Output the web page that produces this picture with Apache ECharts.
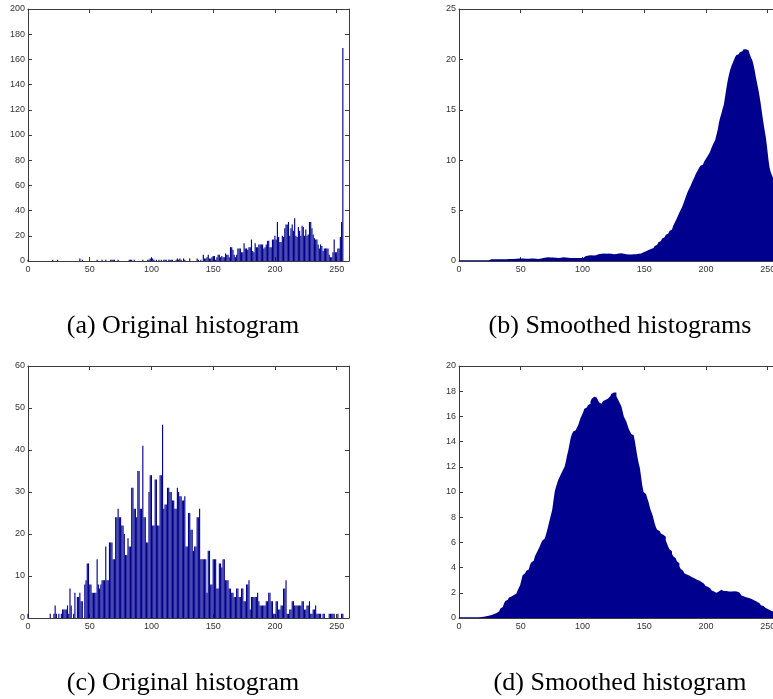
<!DOCTYPE html>
<html>
<head>
<meta charset="utf-8">
<script src="https://cdn.jsdelivr.net/npm/echarts@6/dist/echarts.min.js"></script>
<style>
  html, body { margin: 0; padding: 0; background: #ffffff; }
  #chart { width: 773px; height: 699px; }
</style>
</head>
<body>
<div id="chart"></div>
<script>
// Grey levels 0..255 (histogram bins)
const bins = [];
for (let i = 0; i < 256; i++) bins.push(i);

// (a) original histogram counts
const histA = [
  1,0,0,0,0,0,0,0,0,0,
  0,0,0,0,0,0,0,0,0,0,
  1,0,0,0,1,0,0,0,0,0,
  0,0,0,0,0,0,0,0,0,0,
  0,0,2,0,1,0,0,0,0,0,
  0,0,0,0,0,0,1,0,0,0,
  1,0,0,1,0,0,0,1,1,1,
  1,0,0,1,0,0,0,0,0,0,
  0,0,1,1,1,0,1,0,0,0,
  0,0,0,1,0,0,0,1,1,2,
  2,2,1,0,1,0,1,0,1,0,
  1,1,1,0,1,1,1,1,0,0,
  1,2,1,2,1,0,2,1,0,0,
  0,2,0,0,0,0,0,2,1,0,
  1,0,5,2,2,3,5,2,2,3,
  4,4,1,3,5,5,3,4,3,3,
  6,5,5,3,11,11,9,5,3,5,
  10,10,10,7,7,14,10,10,9,11,
  11,17,8,7,14,11,11,13,13,13,
  13,10,11,13,16,16,11,11,17,17,
  20,17,31,19,15,15,20,19,26,29,
  29,31,20,26,29,24,34,20,19,27,
  24,20,28,27,20,25,20,21,31,31,
  26,21,18,17,17,13,10,13,12,8,
  10,10,10,10,5,3,3,7,17,7,
  7,10,10,19,31,169
];

// (b) smoothed histogram
const smoothB = [
  0.08,0.08,0.08,0.08,0.08,0.08,0.08,0.08,0.08,0.08,
  0.08,0.08,0.08,0.08,0.08,0.08,0.08,0.08,0.08,0.08,
  0.08,0.08,0.08,0.08,0.08,0.08,0.17,0.18,0.18,0.18,
  0.18,0.18,0.18,0.18,0.18,0.18,0.18,0.18,0.18,0.19,
  0.19,0.19,0.19,0.2,0.2,0.2,0.22,0.24,0.25,0.25,
  0.25,0.25,0.24,0.24,0.23,0.23,0.23,0.24,0.26,0.27,
  0.26,0.24,0.22,0.21,0.21,0.22,0.24,0.27,0.3,0.33,
  0.35,0.36,0.36,0.35,0.35,0.35,0.35,0.34,0.32,0.3,
  0.3,0.31,0.33,0.35,0.36,0.35,0.35,0.34,0.32,0.3,
  0.3,0.3,0.3,0.29,0.3,0.3,0.3,0.3,0.3,0.3,
  0.3,0.32,0.38,0.46,0.52,0.55,0.56,0.56,0.55,0.55,
  0.56,0.58,0.62,0.66,0.7,0.72,0.74,0.75,0.74,0.72,
  0.72,0.74,0.75,0.72,0.7,0.68,0.68,0.7,0.72,0.74,
  0.76,0.76,0.75,0.72,0.7,0.68,0.66,0.65,0.65,0.65,
  0.66,0.66,0.65,0.66,0.68,0.71,0.72,0.75,0.8,0.86,
  0.92,0.97,1.0,1.04,1.08,1.13,1.2,1.28,1.38,1.48,
  1.6,1.72,1.85,1.98,2.1,2.22,2.35,2.45,2.6,2.72,
  2.85,2.98,3.12,3.3,3.5,3.75,4.0,4.25,4.55,4.8,
  5.05,5.3,5.6,5.95,6.3,6.65,6.95,7.2,7.45,7.75,
  8.0,8.25,8.55,8.8,9.0,9.25,9.45,9.55,9.65,9.85,
  10.05,10.25,10.45,10.65,10.9,11.2,11.5,11.75,12.0,12.5,
  13.0,13.7,14.2,14.6,15.1,15.5,16.3,17.1,17.8,18.4,
  18.9,19.3,19.6,19.9,20.2,20.4,20.5,20.6,20.7,20.8,
  20.9,21.0,21.05,21.0,20.9,20.75,20.5,20.2,19.95,19.5,
  18.9,18.2,17.6,17.0,16.3,15.5,14.6,13.8,13.0,12.3,
  11.3,10.2,9.3,8.8,8.5,8.2
];

// (c) original histogram counts
const histC = [
  1,0,0,0,0,0,0,0,0,0,
  0,0,0,0,0,0,0,0,1,0,
  0,1,3,1,0,1,0,1,2,2,
  2,2,3,1,7,3,0,1,6,0,
  5,5,6,4,4,0,8,9,13,13,
  8,8,6,6,6,6,14,8,7,8,
  9,9,9,17,9,9,18,18,18,14,
  14,24,24,26,24,24,22,22,20,15,
  15,19,17,17,31,31,26,26,24,35,
  35,26,26,41,24,24,18,18,30,34,
  34,22,22,33,33,22,22,34,34,46,
  26,27,27,31,31,30,30,28,28,26,
  26,31,30,29,29,28,28,29,17,17,
  25,25,21,21,16,17,17,24,24,26,
  14,14,14,14,14,6,16,16,8,8,
  14,14,14,7,7,13,13,12,14,14,
  9,9,9,7,7,6,6,5,5,7,
  7,5,5,7,7,4,4,8,8,9,
  2,5,5,5,5,5,6,4,3,3,
  3,3,3,4,4,6,6,4,4,1,
  1,4,4,2,2,3,3,7,7,9,
  1,1,2,2,4,4,3,3,3,3,
  3,3,4,4,2,2,3,3,4,1,
  1,2,2,3,1,1,1,1,0,1,
  1,0,0,0,1,1,1,1,1,0,
  0,1,0,0,1,1
];

// (d) smoothed histogram
const smoothD = [
  0.05,0.05,0.05,0.05,0.05,0.05,0.05,0.05,0.05,0.05,
  0.05,0.05,0.05,0.05,0.05,0.05,0.05,0.06,0.08,0.1,
  0.1,0.12,0.14,0.16,0.18,0.2,0.24,0.28,0.32,0.36,
  0.4,0.46,0.54,0.64,0.76,0.88,1.02,1.18,1.34,1.45,
  1.55,1.62,1.7,1.76,1.82,1.88,1.95,2.05,2.2,2.4,
  2.6,3.0,3.4,3.55,3.65,3.75,3.85,4.0,4.2,4.4,
  4.55,4.7,4.9,5.1,5.3,5.5,5.7,5.95,6.15,6.3,
  6.45,6.65,7.0,7.4,7.8,8.2,8.6,9.3,10.0,10.4,
  10.7,11.0,11.2,11.4,11.6,11.8,12.0,12.4,12.9,13.3,
  13.8,14.3,14.6,14.8,14.9,15.0,15.1,15.3,15.6,15.9,
  16.1,16.3,16.6,16.7,16.8,16.9,17.0,17.2,17.4,17.55,
  17.6,17.6,17.5,17.3,17.1,17.0,17.05,17.2,17.3,17.35,
  17.4,17.4,17.45,17.6,17.8,17.9,18.0,17.9,17.6,17.4,
  17.2,17.0,16.8,16.4,16.0,15.8,15.6,15.3,15.0,14.8,
  14.6,14.5,14.4,14.0,13.4,12.8,12.3,11.9,11.2,10.5,
  10.0,9.85,9.75,9.5,9.2,8.8,8.5,8.25,7.9,7.5,
  7.2,7.0,6.9,6.8,6.7,6.6,6.55,6.45,6.2,5.9,
  5.65,5.45,5.3,5.1,4.9,4.75,4.6,4.5,4.35,4.1,
  3.9,3.75,3.65,3.55,3.45,3.4,3.37,3.35,3.3,3.25,
  3.2,3.15,3.1,3.05,2.98,2.92,2.86,2.8,2.72,2.64,
  2.56,2.48,2.42,2.36,2.28,2.2,2.1,2.02,2.0,2.05,
  2.1,2.18,2.25,2.25,2.2,2.15,2.15,2.1,2.1,2.1,
  2.1,2.1,2.1,2.12,2.12,2.1,2.08,2.0,1.9,1.8,
  1.72,1.68,1.65,1.62,1.6,1.58,1.55,1.5,1.45,1.4,
  1.35,1.3,1.25,1.18,1.1,1.02,0.95,0.88,0.8,0.75,
  0.7,0.65,0.6,0.55,0.5,0.45
];

// Axis ranges / tick steps per panel
const xMax = 260, xStep = 50;
const yMaxA = 200, yStepA = 20;
const yMaxB = 25,  yStepB = 5;
const yMaxC = 60,  yStepC = 10;
const yMaxD = 20,  yStepD = 2;

const captions = [
  '(a) Original histogram',
  '(b) Smoothed histograms',
  '(c) Original histogram',
  '(d) Smoothed histogram'
];

const BAR = '#00008f';
const AXIS = '#3c3c3c';
const LABEL = '#333333';
const TICK_FONT = 'Liberation Sans';

const panels = [
  { left: 28, top: 9,   yMax: yMaxA, yStep: yStepA, values: histA,   kind: 'bar'  },
  { left: 459, top: 9,  yMax: yMaxB, yStep: yStepB, values: smoothB, kind: 'area' },
  { left: 28, top: 366, yMax: yMaxC, yStep: yStepC, values: histC,   kind: 'bar'  },
  { left: 459, top: 366, yMax: yMaxD, yStep: yStepD, values: smoothD, kind: 'area' }
];

const grid = [], xAxis = [], yAxis = [], series = [];

function axisCommon(show) {
  return {
    axisLine: { show: true, onZero: false, lineStyle: { color: AXIS, width: 1 } },
    axisTick: { show: true, inside: true, length: 4, lineStyle: { color: AXIS } },
    splitLine: { show: false },
    axisLabel: { show: show, color: LABEL, fontSize: 9, fontFamily: TICK_FONT }
  };
}

panels.forEach((p, g) => {
  grid.push({ left: p.left, top: p.top, width: 321, height: 252,
              containLabel: false, outerBoundsMode: 'none' });

  const xb = Object.assign(axisCommon(true), {
    type: 'value', gridIndex: g, position: 'bottom', min: 0, max: xMax, interval: xStep
  });
  xb.axisLabel.margin = 4;
  xb.axisLabel.formatter = v => (v % xStep === 0 ? String(v) : '');
  const xt = Object.assign(axisCommon(false), {
    type: 'value', gridIndex: g, position: 'top', min: 0, max: xMax, interval: xStep
  });
  const yl = Object.assign(axisCommon(true), {
    type: 'value', gridIndex: g, position: 'left', min: 0, max: p.yMax, interval: p.yStep
  });
  yl.axisLabel.margin = 3;
  const yr = Object.assign(axisCommon(false), {
    type: 'value', gridIndex: g, position: 'right', min: 0, max: p.yMax, interval: p.yStep
  });
  xAxis.push(xb, xt);
  yAxis.push(yl, yr);

  const data = p.values.map((v, i) => [bins[i], v]);
  if (p.kind === 'bar') {
    series.push({
      type: 'bar', xAxisIndex: 2 * g, yAxisIndex: 2 * g, data: data,
      barWidth: '92%', itemStyle: { color: BAR }, silent: true
    });
  } else {
    series.push({
      type: 'line', xAxisIndex: 2 * g, yAxisIndex: 2 * g, data: data,
      step: 'middle', symbol: 'none', lineStyle: { width: 0, color: BAR },
      areaStyle: { color: BAR, opacity: 1 }, silent: true
    });
  }
});

const captionPos = [[183, 326], [620, 326], [183, 683], [620, 683]];
const graphic = captions.map((t, i) => ({
  type: 'text', x: captionPos[i][0], y: captionPos[i][1], silent: true,
  style: {
    text: t, fill: '#000000', fontSize: 26, fontFamily: 'Liberation Serif',
    align: 'center', verticalAlign: 'middle'
  }
}));

const chart = echarts.init(document.getElementById('chart'), null, { renderer: 'canvas' });
chart.setOption({
  animation: false,
  backgroundColor: '#ffffff',
  grid: grid,
  xAxis: xAxis,
  yAxis: yAxis,
  series: series,
  graphic: graphic
});
</script>
</body>
</html>
